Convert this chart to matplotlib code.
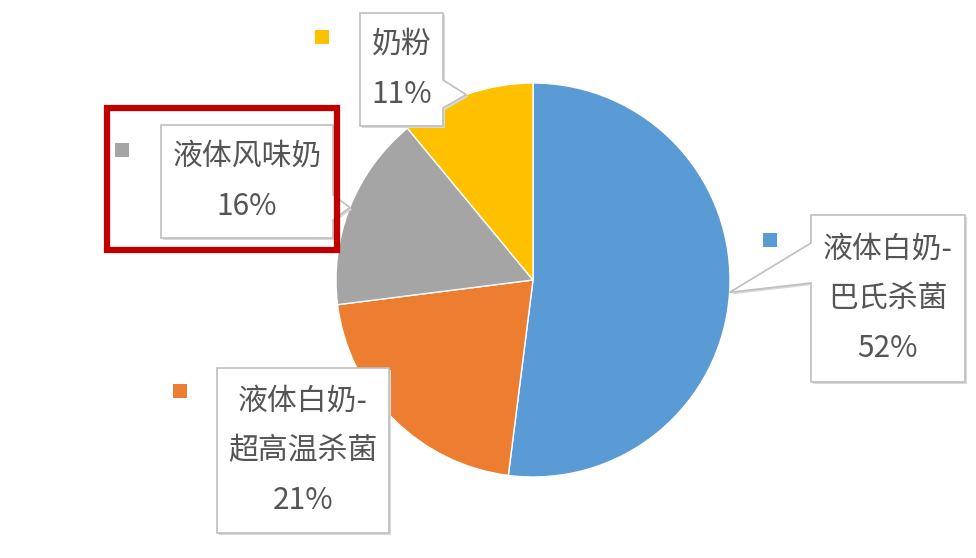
import numpy as np
import matplotlib
matplotlib.use("Agg")
import matplotlib.pyplot as plt
from matplotlib.patches import Polygon, Rectangle

plt.rcParams['font.family'] = ['Noto Sans CJK SC', 'DejaVu Sans']

# data
labels = ["液体白奶-\n巴氏杀菌", "液体白奶-\n超高温杀菌", "液体风味奶", "奶粉"]
shares = [52, 21, 16, 11]
colors = ["#5B9BD5", "#ED7D31", "#A5A5A5", "#FFC000"]

W, H = 976, 558
TEXT = "#555555"

# label box layout in image pixels: x0, y0, x1, y1, pointer side, pointer base
boxes = [
    (811, 215, 965, 382, "left", (243, 283)),
    (217, 368, 389, 533, None, None),
    (161, 125, 333, 238, "right", (195, 220)),
    (360, 13, 443, 126, "right", (80, 108)),
]
keys = [(770, 240), (180, 391), (122, 150), (322, 37)]


def fy(y):
    return H - y


fig = plt.figure(figsize=(W / 100, H / 100), dpi=100)
ax = fig.add_axes([0, 0, 1, 1])

cx, cy, r = 533, fy(280), 197
wedges, _ = ax.pie(shares, colors=colors, startangle=90, counterclock=False,
                   center=(cx, cy), radius=r, frame=True,
                   wedgeprops=dict(linewidth=1.0, edgecolor="white"))
ax.set_xlim(0, W)
ax.set_ylim(0, H)
ax.axis("off")

for w, lab, val, box, key, col in zip(wedges, labels, shares, boxes, keys, colors):
    x0, y0, x1, y1, side, base = box
    mid = np.deg2rad((w.theta1 + w.theta2) / 2)
    tip = (cx + r * np.cos(mid), cy + r * np.sin(mid))
    pts = [(x0, fy(y0)), (x1, fy(y0))]
    if side == "right":
        pts += [(x1, fy(base[0])), tip, (x1, fy(base[1]))]
    pts += [(x1, fy(y1)), (x0, fy(y1))]
    if side == "left":
        pts += [(x0, fy(base[1])), tip, (x0, fy(base[0]))]
    shadow = Polygon([(px + 2, py - 2) for px, py in pts], closed=True,
                     facecolor="#d9d9d9", edgecolor="none", zorder=3)
    ax.add_patch(shadow)
    ax.add_patch(Polygon(pts, closed=True, facecolor="white",
                         edgecolor="#bfbfbf", linewidth=1.2, zorder=4))
    ax.text((x0 + x1) / 2, fy((y0 + y1) / 2), f"{lab}\n{val}%",
            ha="center", va="center", fontsize=21.5, color=TEXT,
            fontweight="medium", linespacing=1.78, zorder=5)
    ax.add_patch(Rectangle((key[0] - 7, fy(key[1]) - 7), 14, 14,
                           facecolor=col, edgecolor="none", zorder=5))

# highlight frame around flavoured milk label
ax.add_patch(Rectangle((107, fy(250)), 230, 142, fill=False,
                       edgecolor="#C00000", linewidth=4.5, zorder=6))

fig.savefig("out.png", dpi=100, facecolor="white")
